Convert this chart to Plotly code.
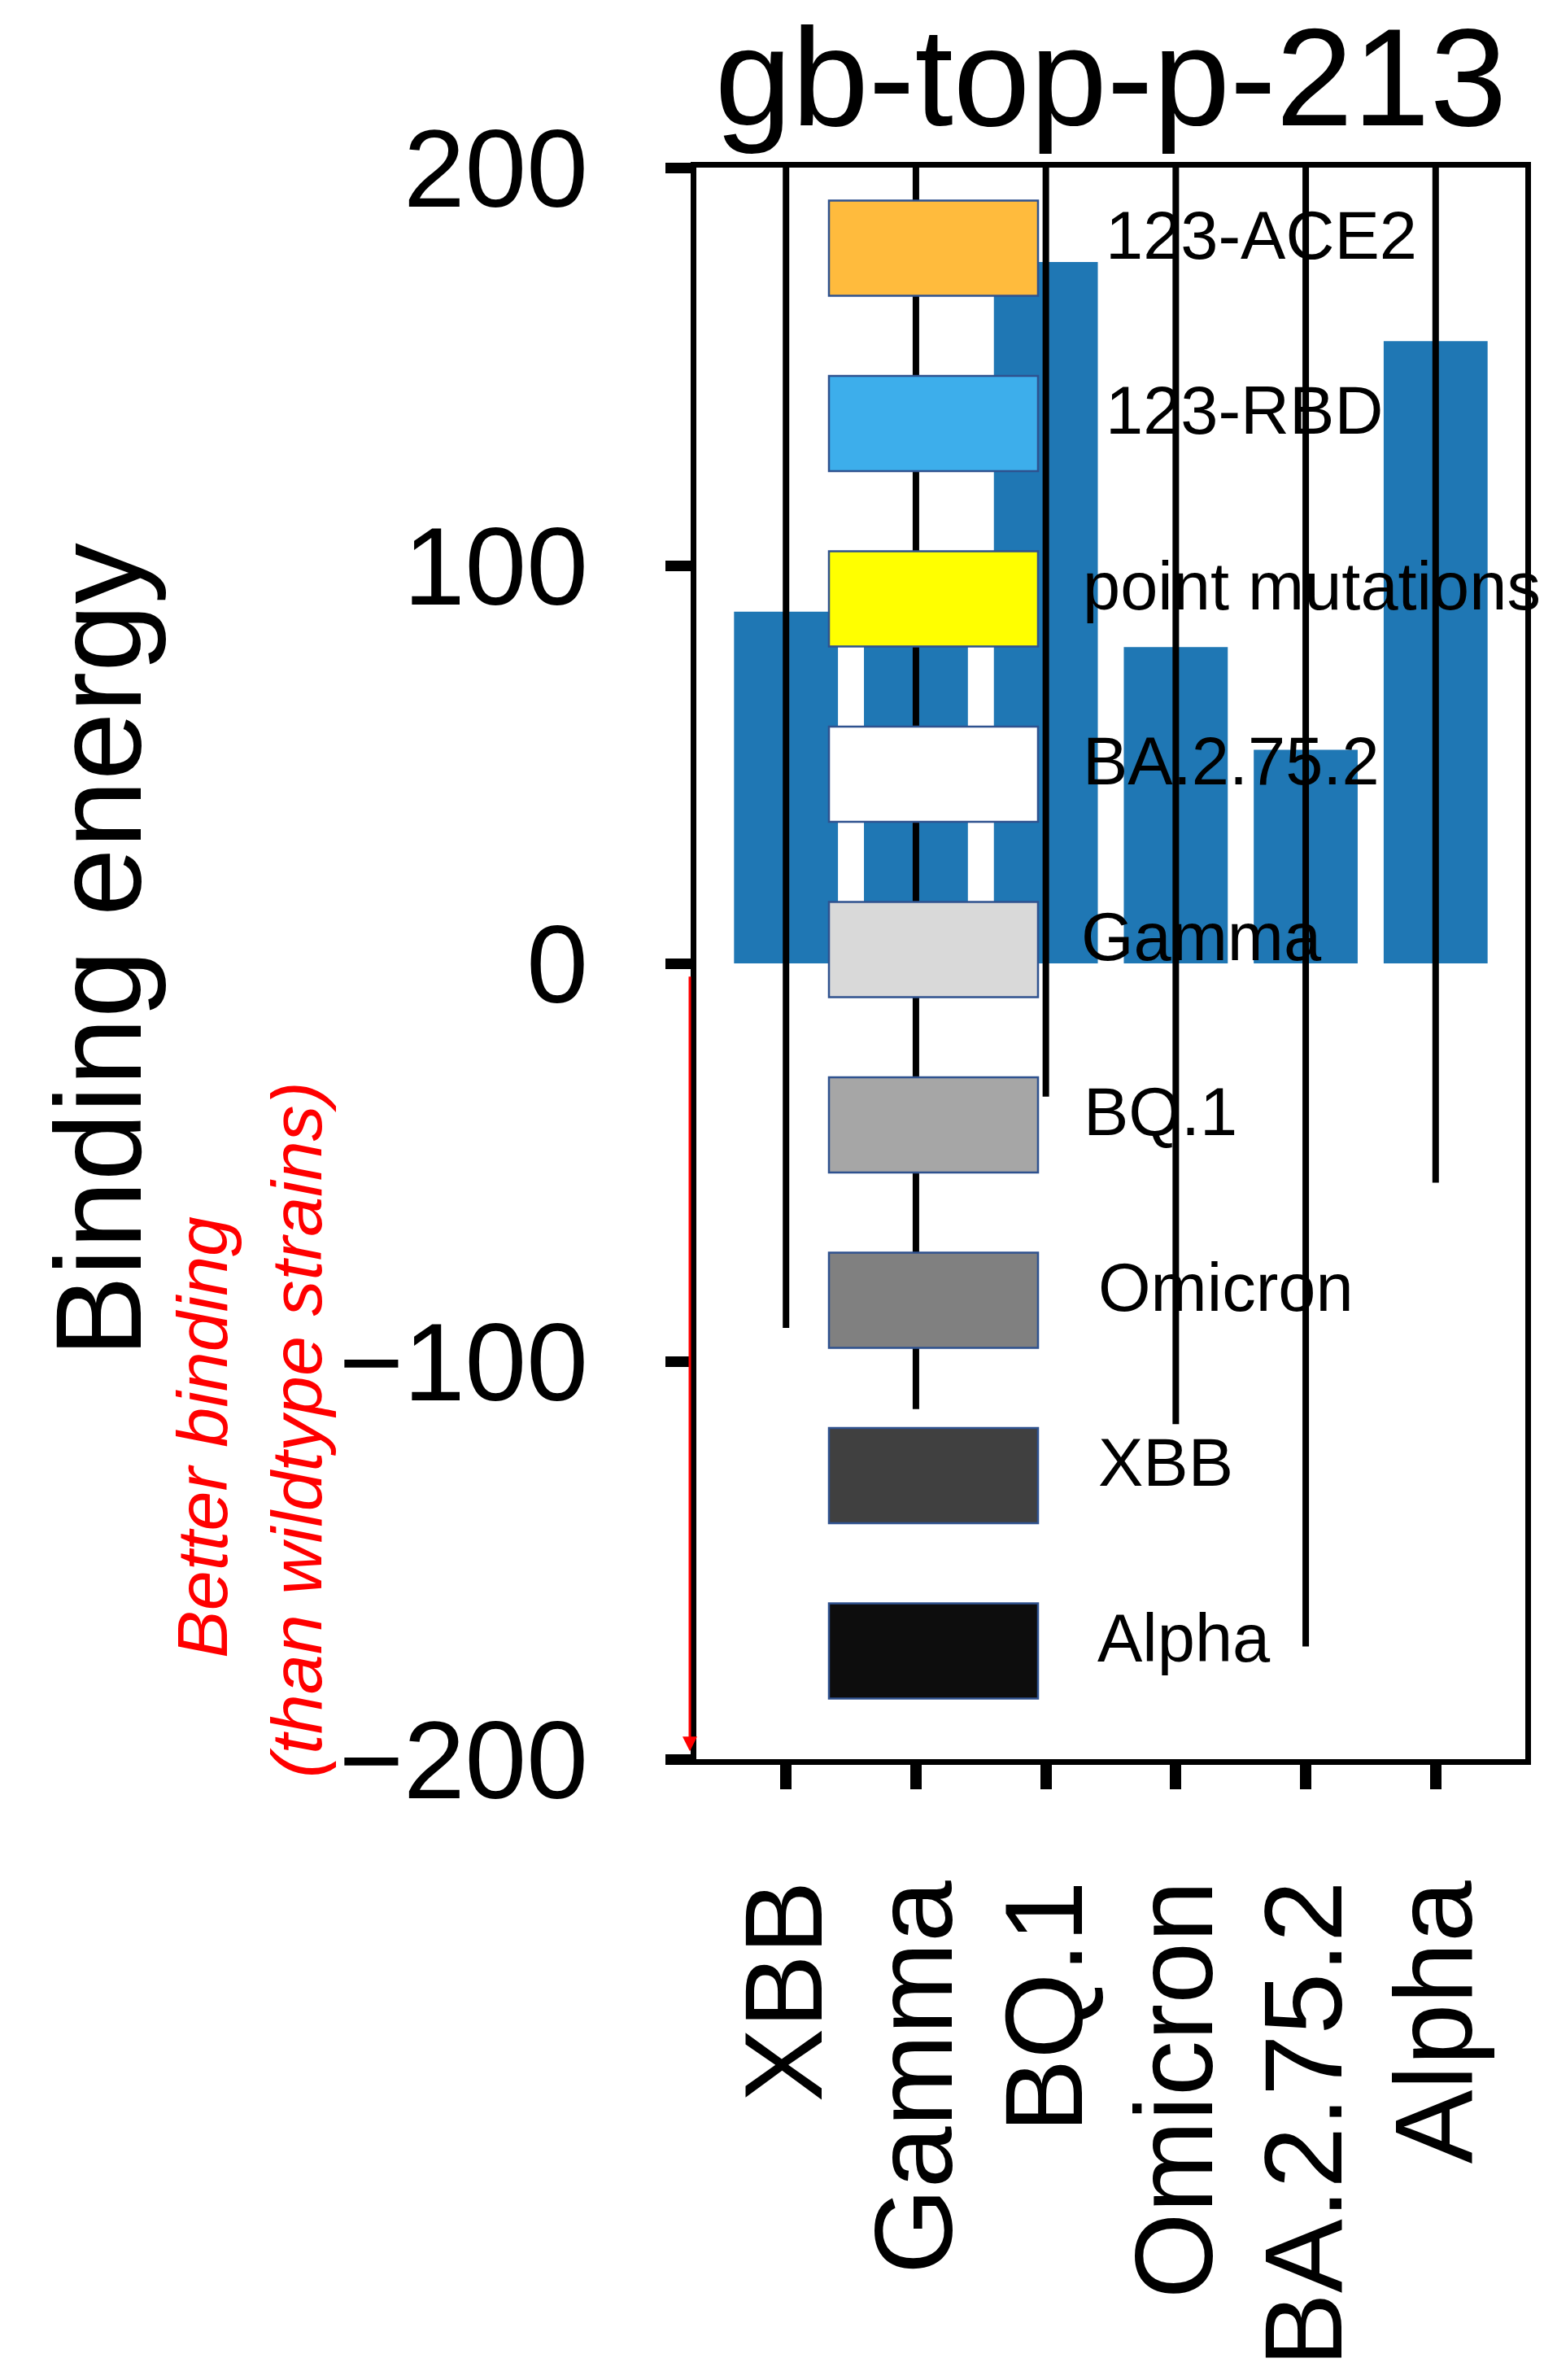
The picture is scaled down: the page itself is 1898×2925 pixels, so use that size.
import plotly.graph_objects as go

# ---- data -------------------------------------------------------------
strains = ["XBB", "Gamma", "BQ.1", "Omicron", "BA.2.75.2", "Alpha"]
binding_energy = [88.4, 91.0, 176.3, 79.5, 53.7, 156.4]
energy_error = [180.0, 203.0, 209.8, 195.3, 225.4, 211.5]

y_ticks = [-200, -100, 0, 100, 200]

key_labels = ["123-ACE2", "123-RBD", "point mutations", "BA.2.75.2", "Gamma",
              "BQ.1", "Omicron", "XBB", "Alpha"]
key_colors = ["#FFBB3D", "#3DAEEB", "#FFFF00", "#FFFFFF", "#D9D9D9",
              "#A6A6A6", "#808080", "#404040", "#0D0D0D"]

chart_title = "gb-top-p-213"
y_title = "Binding energy"
note_lines = ["Better binding", "(than wildtype strains)"]

# ---- layout geometry (pixels) ----------------------------------------
W, H = 1898, 2925
PLOT_L, PLOT_R, PLOT_T, PLOT_B = 856, 1875, 206, 2162

# key (hand-drawn legend) geometry
KEY_BOX_X0, KEY_BOX_X1 = 1019, 1276
KEY_TOP0, KEY_STEP, KEY_H = 246.5, 215.5, 117
KEY_TEXT_LEFT = [1357, 1357, 1329, 1329, 1327, 1330, 1348, 1348, 1347]


def px_x(px):
    return (px - PLOT_L) / (PLOT_R - PLOT_L)


def px_y(py):
    return (PLOT_B - py) / (PLOT_B - PLOT_T)


BLACK = "#000000"
FONT = "Liberation Sans, Arial, sans-serif"

fig = go.Figure(
    go.Bar(
        x=strains,
        y=binding_energy,
        width=0.8,
        marker=dict(color="#1f77b4", line=dict(width=0)),
        error_y=dict(type="data", array=energy_error, symmetric=True,
                     color=BLACK, thickness=8, width=0),
    )
)

shapes = []
annotations = []

# legend boxes and their labels
for i, (lab, col) in enumerate(zip(key_labels, key_colors)):
    top = KEY_TOP0 + KEY_STEP * i
    bot = top + KEY_H
    shapes.append(dict(
        type="rect", xref="paper", yref="paper", layer="above",
        x0=px_x(KEY_BOX_X0), x1=px_x(KEY_BOX_X1),
        y0=px_y(bot), y1=px_y(top),
        fillcolor=col, line=dict(color="#2F528F", width=2.5),
    ))
    annotations.append(dict(
        text=lab, xref="paper", yref="paper",
        x=px_x(KEY_TEXT_LEFT[i]), y=px_y((top + bot) / 2 - 16),
        xanchor="left", yanchor="middle", showarrow=False,
        font=dict(size=83, color=BLACK, family=FONT),
    ))

# y-axis title
annotations.append(dict(
    text=y_title, xref="paper", yref="paper",
    x=px_x(121), y=px_y(1168), textangle=-90,
    xanchor="center", yanchor="middle", showarrow=False,
    font=dict(size=150, color=BLACK, family=FONT),
))

# red note beside the negative half of the axis
for line, cx, cy in zip(note_lines, [248, 364], [1767, 1757]):
    annotations.append(dict(
        text="<i>" + line + "</i>", xref="paper", yref="paper",
        x=px_x(cx), y=px_y(cy), textangle=-90,
        xanchor="center", yanchor="middle", showarrow=False,
        font=dict(size=88, color="#FF0000", family=FONT),
    ))

# red arrow pointing down toward stronger binding
annotations.append(dict(
    text="", xref="paper", yref="y",
    x=px_x(848), y=-198,
    axref="pixel", ax=0, ayref="y", ay=-3,
    showarrow=True, arrowhead=2, arrowsize=1.2, arrowwidth=3,
    arrowcolor="#FF0000", standoff=0,
))

axis_common = dict(
    showline=True, linecolor=BLACK, linewidth=7, mirror=True,
    ticks="outside", tickcolor=BLACK, automargin=False,
    showgrid=False, zeroline=False,
)

fig.update_layout(
    width=W, height=H,
    margin=dict(l=PLOT_L, r=W - PLOT_R, t=PLOT_T, b=H - PLOT_B, pad=0,
                autoexpand=False),
    paper_bgcolor="white", plot_bgcolor="white",
    showlegend=False,
    font=dict(family=FONT, color=BLACK),
    title=dict(text=chart_title, xref="paper", x=0.5, xanchor="center",
               yref="container", y=1 - 94 / H, yanchor="middle",
               automargin=False,
               font=dict(size=170, color=BLACK, family=FONT)),
    xaxis=dict(
        type="category", categoryorder="array", categoryarray=strains,
        tickmode="array", tickvals=strains, ticktext=strains,
        range=[-0.69, 5.69], ticklen=30, tickwidth=14, tickangle=-90,
        tickfont=dict(size=136, color=BLACK), ticklabelstandoff=58,
        **axis_common,
    ),
    yaxis=dict(
        range=[-200, 200], tickmode="array", tickvals=y_ticks,
        ticklen=31, tickwidth=13,
        tickfont=dict(size=136, color=BLACK), ticklabelstandoff=68,
        **axis_common,
    ),
    shapes=shapes,
    annotations=annotations,
)

fig.write_html("out.html")
